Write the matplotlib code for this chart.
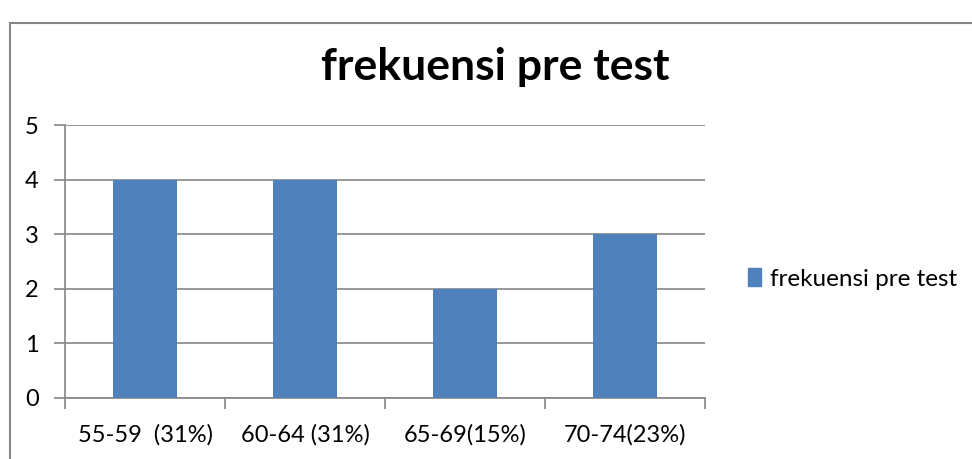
import matplotlib
matplotlib.use("Agg")
import matplotlib.pyplot as plt
from matplotlib.patches import Rectangle, Patch

categories = ["55-59  (31%)", "60-64 (31%)", "65-69(15%)", "70-74(23%)"]
values = [4, 4, 2, 3]
series_name = "frekuensi pre test"
title = "frekuensi pre test"
yticks = [0, 1, 2, 3, 4, 5]

plt.rcParams['font.family'] = ['Lato', 'DejaVu Sans']
W, H = 972, 459
fig = plt.figure(figsize=(W/100, H/100), dpi=100)
fig.patch.set_facecolor('white')

# chart frame
fig.patches.append(Rectangle((10/W, -0.2), 1.2, 1.2 - 23/H,
                             transform=fig.transFigure, fill=False,
                             edgecolor='#868686', lw=1.5))

ax = fig.add_axes([65/W, 1 - 398/H, 640/W, (398 - 125)/H])
grid_c = '#868686'
x = list(range(len(categories)))
bar_color = '#4F81BD'
ax.bar(x, values, width=0.4, color=bar_color, zorder=3)
ax.set_xlim(-0.5, len(categories) - 0.5)
ax.set_ylim(0, 5)
ax.set_yticks(yticks)
ax.yaxis.grid(True, color=grid_c, lw=1.2, zorder=0)
for s in ['top', 'right']:
    ax.spines[s].set_visible(False)
for s in ['left', 'bottom']:
    ax.spines[s].set_color(grid_c)
    ax.spines[s].set_linewidth(1.2)
ax.set_xticks([i - 0.5 for i in range(len(categories) + 1)], minor=False)
ax.set_xticklabels([])
ax.set_xticks(x, minor=True)
ax.set_xticklabels(categories, minor=True, fontsize=17)
ax.tick_params(axis='x', which='minor', length=0, pad=18.5)
ax.tick_params(axis='x', which='major', length=8, color=grid_c, width=1.2)
ax.tick_params(axis='y', length=8, color=grid_c, width=1.2, labelsize=17, pad=11)

fig.text(495/W, 1 - 67/H, title, ha='center', va='center', fontsize=32, fontweight='bold')

fig.legend(handles=[Patch(color=bar_color, label=series_name)], loc='center left',
           bbox_to_anchor=(738/W, 1 - 279/H), frameon=False, fontsize=17.5,
           handlelength=0.55, handleheight=0.75, handletextpad=0.35, borderaxespad=0)

fig.savefig("out.png", dpi=100)
